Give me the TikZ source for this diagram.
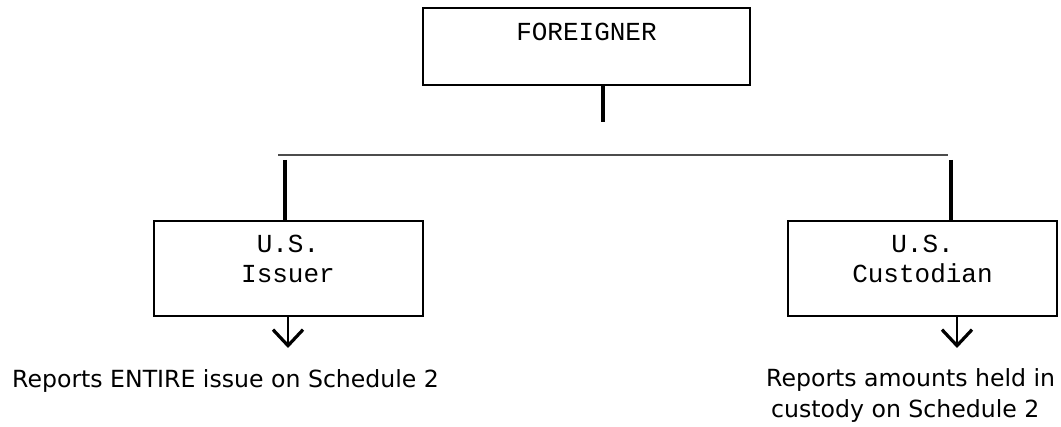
\documentclass[tikz,border=0pt]{standalone}
\usepackage{fontspec}
\setmainfont{DejaVu Sans}
\newfontfamily\boxfont{Liberation Mono}
\usetikzlibrary{arrows.meta}
\begin{document}
\begin{tikzpicture}[x=1pt,y=-1pt,
  box/.style={draw=black, line width=1.8pt, inner sep=0pt, fill=white},
  boxtext/.style={font=\boxfont\fontsize{26}{30}\selectfont, inner sep=0pt, anchor=base},
  note/.style={font=\fontsize{23.6}{30}\selectfont, inner sep=0pt, anchor=base west},
  stem/.style={line width=3.2pt, black},
  bar/.style={line width=1.8pt, black!70},
  down/.style={line width=2.2pt, -{Straight Barb[length=16pt,width=30pt,line width=3.2pt]}}]
  \useasboundingbox (0,0) rectangle (1061,427);

  % boxes
  \node[box, minimum width=327pt, minimum height=77pt] (foreigner) at (586.5,46.5) {};
  \node[box, minimum width=269pt, minimum height=95pt] (issuer) at (288.5,268.5) {};
  \node[box, minimum width=269pt, minimum height=95pt] (custodian) at (922.5,268.5) {};

  % box labels
  \node[boxtext] (tf) at (586.5,40.7) {FOREIGNER};
  \node[boxtext] (ti1) at (288,253) {U.S.};
  \node[boxtext] (ti2) at (288,283) {Issuer};
  \node[boxtext] (tc1) at (922.5,253) {U.S.};
  \node[boxtext] (tc2) at (922.5,283) {Custodian};

  % tree connectors
  \coordinate (fstem) at (603,122);
  \coordinate (barL) at (278,155);
  \coordinate (barR) at (948,155);
  \coordinate (legL) at (285,160);
  \coordinate (legR) at (951,160);
  \draw[stem] (foreigner.south -| fstem) -- (fstem);
  \draw[bar] (barL) -- (barR);
  \draw[stem] (legL) -- (issuer.north -| legL);
  \draw[stem] (legR) -- (custodian.north -| legR);

  % report notes
  \node[note] (nl) at (12,388) {Reports ENTIRE issue on Schedule 2};
  \node[note] (nr1) at (766,387) {Reports amounts held in};
  \node[note] (nr2) at (771,418) {custody on Schedule 2};

  \coordinate (tipL) at (288,348);
  \coordinate (tipR) at (957,348);
  \draw[down] (issuer.south -| tipL) -- (tipL);
  \draw[down] (custodian.south -| tipR) -- (tipR);
\end{tikzpicture}
\end{document}
